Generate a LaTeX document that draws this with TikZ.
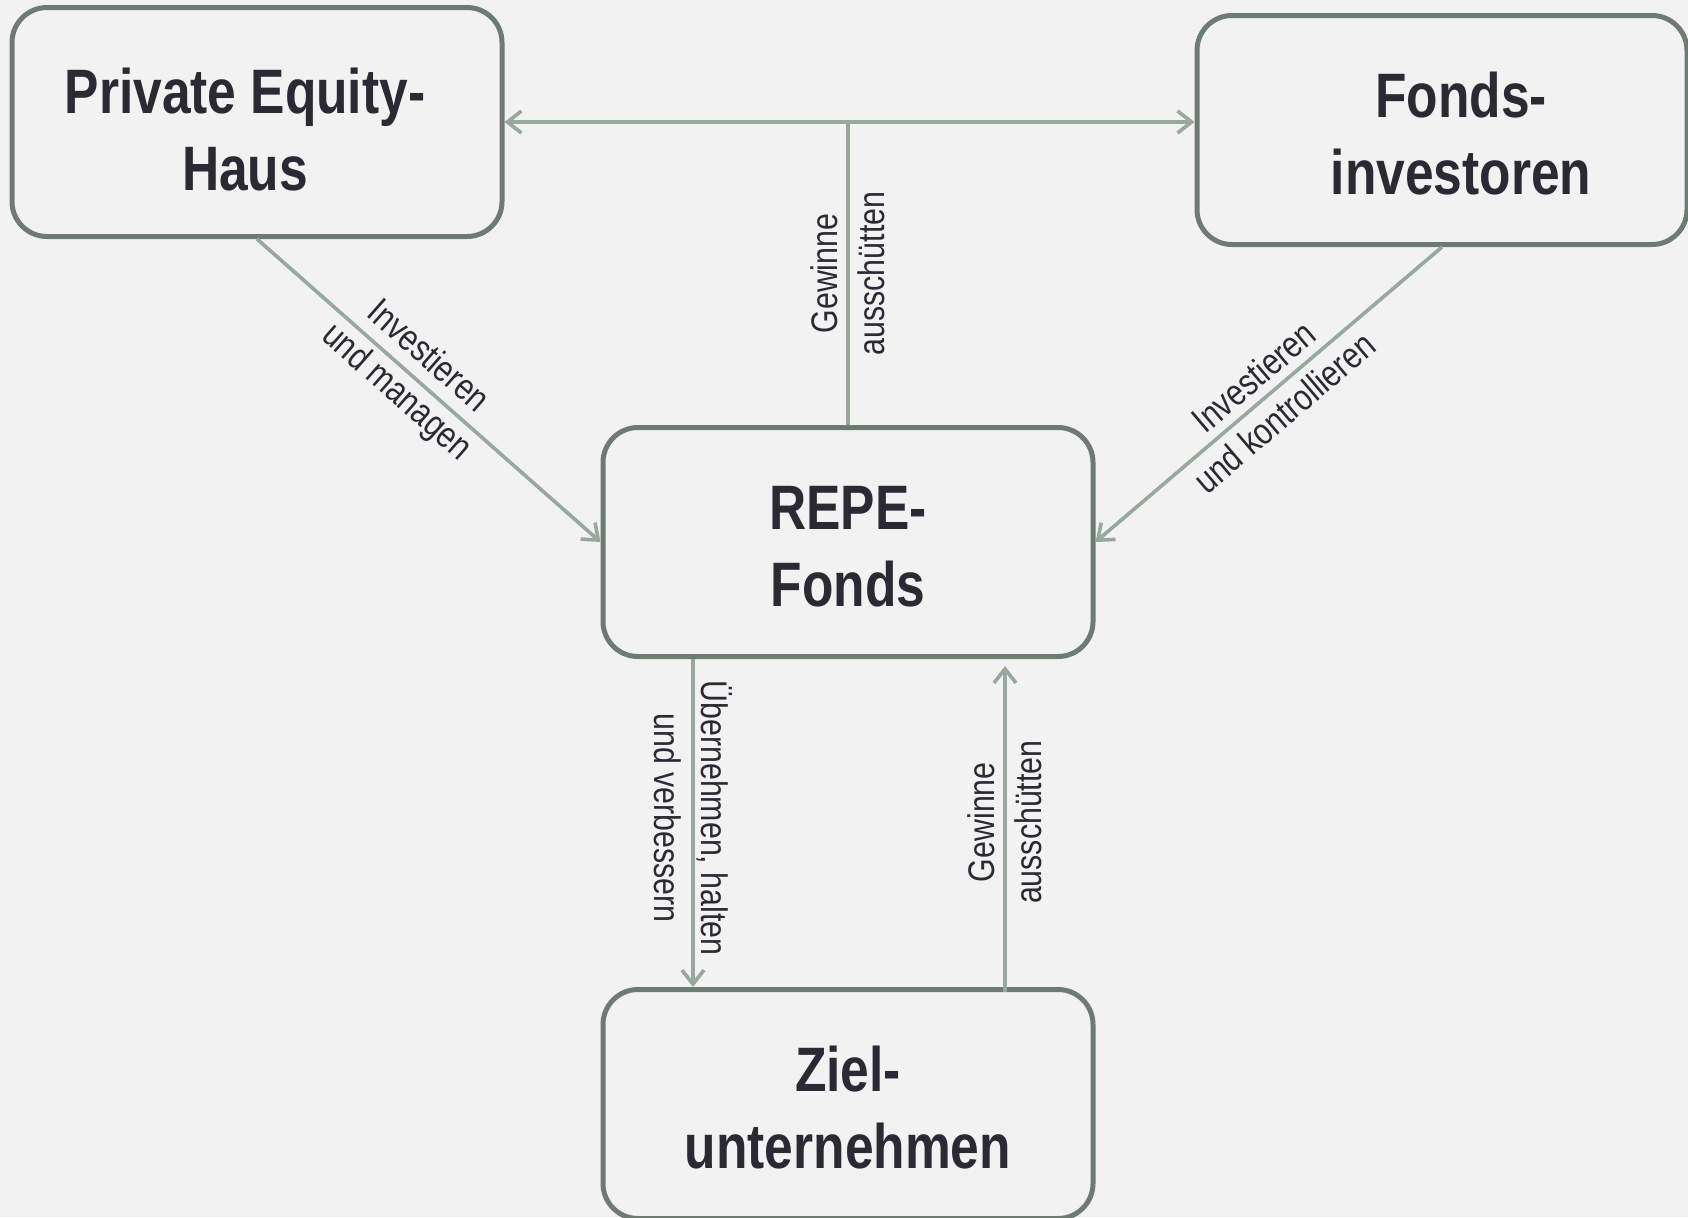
\documentclass[tikz,border=0pt]{standalone}
\usepackage{fontspec}
\setmainfont{Liberation Sans}
\newfontfamily\narrowfont{Liberation Sans}[FakeStretch=0.82]
\usetikzlibrary{arrows.meta}
\definecolor{bgcol}{HTML}{F2F2F2}
\definecolor{boxcol}{HTML}{6E7B72}
\definecolor{pfeilcol}{HTML}{97A89C}
\definecolor{textcol}{HTML}{2A2A35}
% Abstand oben / seitlich im Kasten
\newcommand{\oben}[1]{\rule{0pt}{#1}}
\newcommand{\seite}[1]{\rule{#1}{0pt}}
\begin{document}
\begin{tikzpicture}[x=0.5pt,y=-0.5pt,>={Straight Barb[length=7pt,width=11pt]},
	box/.style={draw=boxcol,line width=2.5pt,rounded corners=17.5pt,fill=bgcol,
		minimum width=245pt,minimum height=114.5pt,inner sep=0pt,align=center,
		text=textcol,font=\narrowfont\bfseries\fontsize{31.4}{38.5}\selectfont},
	pfeil/.style={draw=pfeilcol,line width=1.8pt},
	marke/.style={sloped,align=center,inner sep=0pt,text=textcol,
		font=\narrowfont\fontsize{18.5}{23.5}\selectfont}]
	\useasboundingbox (0,0) rectangle (1688,1217);
	\fill[bgcol] (0,0) rectangle (1688,1217);
	% Kaesten
	\node[box] (haus) at (257,122) {\oben{30.5pt}Private Equity-\seite{12pt}\\Haus\seite{12pt}};
	\node[box] (invest) at (1442,130) {\oben{26pt}\seite{19pt}Fonds-\\\seite{19pt}investoren};
	\node[box] (repe) at (848,542) {\oben{26pt}REPE-\\Fonds};
	\node[box] (ziel) at (848,1104) {\oben{26pt}Ziel-\\unternehmen};
	% Verbindungen
	\draw[pfeil,<->] (haus.east) -- (haus.east -| invest.west);
	\draw[pfeil] (repe.north) -- (repe.north |- haus.east) node[marke,pos=0.5]{Gewinne\\ausschütten};
	\draw[pfeil,->] (haus.south) -- (repe.west) node[marke,pos=0.45]{Investieren\\und managen};
	\draw[pfeil,->] (invest.south) -- (repe.east) node[marke,pos=0.5]{Investieren\\und kontrollieren};
	\draw[pfeil,->] ([xshift=-77.5pt]repe.south) -- ([xshift=-77.5pt]ziel.north) node[marke,pos=0.485]{Übernehmen, halten\\und verbessern};
	\draw[pfeil,->,shorten >=3.5pt] ([xshift=78.5pt,yshift=-2.5pt]ziel.north) -- ([xshift=78.5pt]repe.south) node[marke,pos=0.51]{Gewinne\\ausschütten};
\end{tikzpicture}
\end{document}
